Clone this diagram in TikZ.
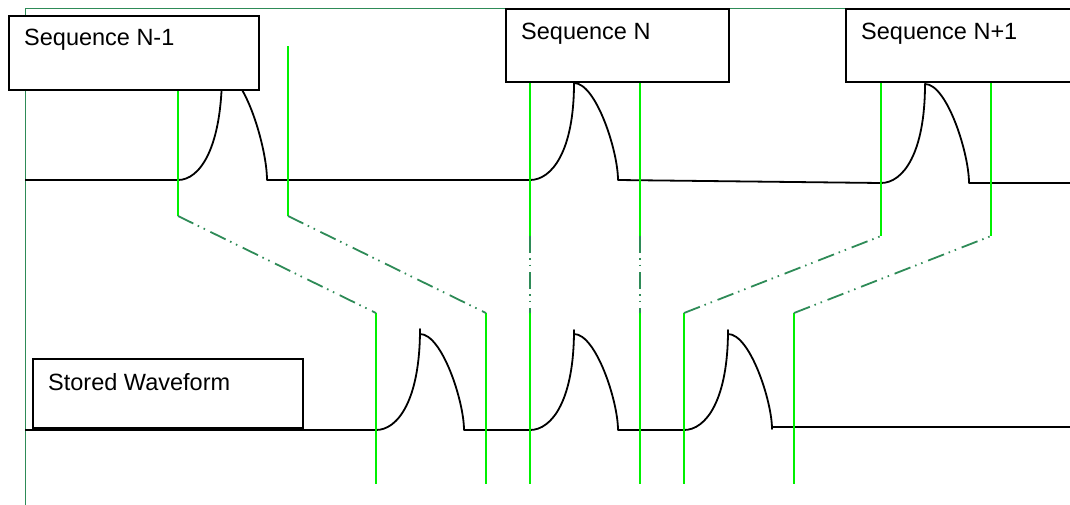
\documentclass[tikz,border=0pt]{standalone}
\usepackage{fontspec}
\setmainfont{Liberation Sans}
\definecolor{sig}{RGB}{0,240,0}
\definecolor{dd}{RGB}{46,139,87}
\begin{document}
\begin{tikzpicture}[x=1pt,y=-1pt,
  wave/.style={black,line width=1.8pt,line join=round},
  marker/.style={sig,line width=2pt},
  link/.style={dd,line width=1.8pt,dash pattern=on 17pt off 5pt on 1.5pt off 5pt on 1.5pt off 6pt},
  frame/.style={dd,line width=1pt},
  labelbox/.style={draw=black,line width=1.8pt,fill=white,inner sep=0pt,anchor=north west},
  lbl/.style={font=\fontsize{23.5pt}{28pt}\selectfont,inner sep=0pt,anchor=north west}]
\useasboundingbox (0,0) rectangle (1070,504);

% frame
\draw[frame] (1075,8) -- (25,8) -- (25,505);

% top waveform
\draw[wave] (25,180) -- (178,180)
  .. controls (200,180) and (222,147.6) .. (222,72)
  .. controls (244.5,72) and (267,147.6) .. (267,180)
  -- (530,180)
  .. controls (552,180) and (574,150.9) .. (574,83)
  .. controls (596,83) and (618,150.9) .. (618,180)
  -- (881,183)
  .. controls (903,183) and (925,153.3) .. (925,84)
  .. controls (947,84) and (969,153.3) .. (969,183)
  -- (1075,183);

% stored waveform
\draw[wave] (25,430) -- (376,430)
  .. controls (398,430) and (420,399.7) .. (420,329) -- (420,334)
  .. controls (442,334) and (464,401.2) .. (464,430)
  -- (530,430)
  .. controls (552,430) and (574,400) .. (574,330) -- (574,334)
  .. controls (596,334) and (618,401.2) .. (618,430)
  -- (684,430)
  .. controls (706,430) and (728,400) .. (728,330) -- (728,334)
  .. controls (750,334) and (772,401.2) .. (772,429)
  -- (772,427) -- (1075,427);

% marker coordinates
\coordinate (a1) at (178,216); \coordinate (a2) at (288,216);
\coordinate (a3) at (530,236); \coordinate (a4) at (640,236);
\coordinate (a5) at (881,236); \coordinate (a6) at (991,236);
\coordinate (c1) at (376,313); \coordinate (c2) at (486,313);
\coordinate (c3) at (530,313); \coordinate (c4) at (640,313);
\coordinate (c5) at (684,313); \coordinate (c6) at (794,313);

% top markers
\draw[marker] (178,89) -- (a1);
\draw[marker] (288,46) -- (a2);
\draw[marker] (530,81) -- (a3);
\draw[marker] (640,81) -- (a4);
\draw[marker] (881,81) -- (a5);
\draw[marker] (991,81) -- (a6);

% bottom markers
\foreach \i/\x in {1/376,2/486,3/530,4/640,5/684,6/794}
  \draw[marker] (c\i) -- (\x,484);

% dash-dot links
\draw[link] (a1) -- (c1);
\draw[link] (a2) -- (c2);
\draw[link] (a3) -- (c3);
\draw[link] (a4) -- (c4);
\draw[link] (c5) -- (a5);
\draw[link] (c6) -- (a6);

% boxes
\node[labelbox,minimum width=250pt,minimum height=74pt] (b1) at (8,15) {};
\node[labelbox,minimum width=223pt,minimum height=73pt] (b2) at (505,8) {};
\node[labelbox,minimum width=232pt,minimum height=73pt] (b3) at (845,8) {};
\node[labelbox,minimum width=270pt,minimum height=69pt] (b4) at (32,358) {};

\node[lbl] (t1) at (24,29) {Sequence N-1};
\node[lbl] (t2) at (521,22.5) {Sequence N};
\node[lbl] (t3) at (861,22.5) {Sequence N+1};
\node[lbl] (t4) at (48,373.5) {Stored Waveform};
\end{tikzpicture}
\end{document}
